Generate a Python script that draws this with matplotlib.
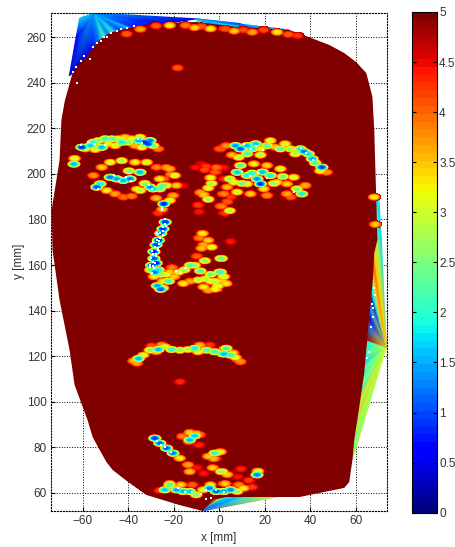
import numpy as np
import matplotlib
matplotlib.use("Agg")
import matplotlib.pyplot as plt
from matplotlib.tri import Triangulation

plt.rcParams["font.family"] = ["Liberation Sans", "DejaVu Sans"]

# face outline [mm]
face_x = [-64.6, -61.5, -58.5, -55.8, -52.7, -49.7, -47.0, -38.2, -29.5, -10.1, 8.8, 30.8, 39.6, 48.4, 54.9, 60.2,
          64.6, 67.3, 68.1, 68.6, 69.0, 69.5, 68.1, 67.6, 66.4, 65.0, 63.7, 61.5, 59.3, 58.5, 57.1, 54.9, 35.2, 25.1,
          3.1, -3.1, -7.5, -17.6, -32.1, -39.6, -43.0, -47.0, -49.7, -52.7, -55.8, -58.0, -63.7, -65.9, -70.3, -73.4,
          -73.8, -70.3, -69.5, -68.0]
face_y = [244.2, 248.6, 251.2, 255.0, 258.7, 260.9, 262.2, 264.4, 266.1, 266.6, 264.4, 263.1, 259.9, 256.5, 253.0,
          249.0, 244.2, 233.7, 219.2, 201.7, 188.5, 171.0, 165.3, 155.0, 141.6, 127.1, 112.6, 97.7, 83.2, 74.5, 64.8,
          62.2, 58.2, 58.2, 58.2, 56.9, 52.1, 54.7, 59.1, 64.4, 67.0, 70.1, 73.6, 78.9, 84.6, 92.0, 107.4, 122.7,
          144.6, 166.6, 184.1, 206.0, 223.6, 232.0]

# interpolated fans outside the face: apex first, then rim
fan_low_x = [73.4, 65.0, 64.9, 64.7, 64.4, 64.0, 63.7, 63.2, 62.7, 62.1, 61.5, 60.9, 60.3, 59.8, 59.3, 58.5]
fan_low_y = [124.0, 127.0, 124.5, 121.0, 118.0, 115.0, 112.0, 108.5, 105.0, 101.5, 98.0, 94.0, 90.0, 86.5, 83.0, 74.5]
fan_low_v = [3.0, 2.0, 1.8, 2.2, 1.7, 2.3, 2.0, 2.6, 1.9, 3.4, 2.5, 3.5, 2.4, 3.3, 2.4, 2.8]

fan_up_x = [73.4, 65.0, 65.6, 66.0, 66.4, 66.8, 67.0, 67.3, 67.6, 67.9, 68.1, 69.5, 71.2]
fan_up_y = [124.0, 127.0, 133.0, 137.0, 141.0, 145.0, 148.0, 151.0, 155.0, 160.0, 165.0, 171.0, 171.0]
fan_up_v = [3.5, 4.8, 1.2, 0.5, 1.5, 0.6, 1.7, 2.2, 3.5, 4.0, 3.5, 2.7, 1.7]

fan_edge_x = [69.0, 69.5, 71.2, 70.2]
fan_edge_y = [188.5, 171.0, 171.0, 188.5]
fan_edge_v = [1.9, 2.2, 1.7, 1.7]

fan_tl_x = [-55.0, -61.5, -63.0, -66.0, -64.6, -60.2, -58.5, -56.0, -53.0, -51.0, -49.0, -47.0, -44.0, -40.0, -38.2,
            -29.5, -20.0, -10.0]
fan_tl_y = [270.6, 268.3, 260.0, 243.0, 244.2, 249.0, 251.2, 254.0, 258.0, 260.0, 261.0, 262.2, 263.0, 264.0, 264.4,
            266.1, 266.5, 268.0]
fan_tl_v = [1.5, 1.7, 0.5, 0.4, 0.4, 0.3, 0.6, 0.5, 1.2, 2.2, 1.2, 2.0, 0.9, 1.6, 0.8, 0.6, 0.4, 0.5]

fan_top_x = [-10.0, -10.1, -2.0, 8.8, 18.0, 30.8, 12.0, 8.8]
fan_top_y = [268.0, 266.6, 265.5, 264.4, 263.8, 263.1, 264.8, 266.0]
fan_top_v = [1.6, 2.6, 1.3, 1.8, 1.2, 1.6, 1.2, 1.0]

fan_bot_x = [-7.5, -3.1, 0.0, 3.1, 8.0, 12.0, 16.0, 20.0, 25.1]
fan_bot_y = [52.1, 56.9, 57.6, 58.2, 58.2, 58.2, 58.2, 58.2, 58.2]
fan_bot_v = [0.9, 4.8, 3.0, 1.8, 1.6, 2.0, 2.3, 2.7, 3.0]

# error speckles on the face [mm] and [colour value]
brow_l_x = [-60.8, -59.3, -57.1, -55.7, -54.9, -53.5, -52.0, -50.5, -49.1, -47.6, -46.1, -44.7, -43.2, -41.7, -40.3,
            -38.8, -37.3, -35.9, -34.4, -33.0, -31.5, -30.7, -29.3, -27.1, -35.1, -64.0, -64.3]
brow_l_y = [211.9, 211.2, 212.6, 214.1, 210.9, 214.8, 211.9, 215.6, 213.4, 215.6, 212.6, 215.6, 214.1, 216.3, 214.1,
            215.6, 212.6, 214.8, 211.9, 214.1, 213.4, 214.8, 212.6, 211.2, 216.3, 207.0, 204.5]
brow_l_v = [0.8, 3.0, 1.6, 2.0, 3.0, 2.5, 1.5, 2.0, 3.2, 2.2, 3.0, 2.8, 1.8, 3.3, 2.5, 3.0, 3.5, 1.5, 3.0, 0.8, 0.8,
            1.2, 2.5, 3.8, 2.8, 3.0, 1.5]

eye_l_x = [-55.7, -52.0, -48.3, -43.2, -37.3, -32.2, -27.8, -54.2, -52.7, -48.3, -45.4, -42.5, -39.5, -35.1, -30.7,
           -29.3, -49.8, -46.1, -42.5, -38.8, -35.1, -26.4, -23.4, -26.4, -22.0, -19.8, -19.0, -20.5, -22.0, -24.6,
           -25.3, -27.0, -33.0, -36.5, -40.0, -28.0]
eye_l_y = [199.5, 203.1, 205.3, 206.0, 205.3, 205.3, 203.1, 194.4, 195.8, 198.7, 198.0, 197.3, 198.0, 200.9, 194.4,
           193.6, 192.9, 191.4, 190.0, 190.4, 192.9, 193.6, 195.1, 198.0, 202.4, 199.5, 195.1, 190.7, 188.5, 187.0,
           184.6, 183.0, 196.0, 193.5, 201.5, 189.5]
eye_l_v = [3.7, 3.4, 3.0, 2.7, 3.2, 3.0, 3.8, 1.0, 1.8, 1.2, 1.4, 1.5, 1.2, 1.5, 1.3, 1.7, 3.2, 3.6, 3.9, 3.8, 2.8,
           2.2, 3.0, 3.2, 3.5, 3.0, 3.4, 3.6, 3.0, 0.7, 3.5, 4.2, 2.6, 3.2, 2.4, 3.5]

brow_r_x = [0.0, 2.5, 5.0, 6.6, 8.8, 8.0, 11.7, 11.7, 13.9, 15.5, 17.6, 17.6, 20.5, 22.0, 24.0, 26.4, 28.5, 30.8, 33.0,
            35.2, 36.8, 38.8, 40.5, 41.8, 44.7, 44.0, 46.9]
brow_r_y = [211.2, 212.6, 208.5, 212.6, 211.2, 207.5, 212.6, 209.0, 211.2, 213.4, 211.2, 208.5, 212.6, 214.8, 212.0,
            211.2, 213.4, 211.2, 209.0, 211.2, 210.0, 209.0, 206.8, 205.0, 203.1, 201.5, 200.9]
brow_r_v = [4.0, 3.7, 3.5, 1.3, 1.0, 2.8, 1.5, 2.2, 1.8, 1.6, 3.2, 2.8, 2.2, 3.0, 3.4, 2.2, 3.0, 2.6, 2.8, 1.8, 1.2,
            1.7, 1.4, 2.2, 0.9, 3.0, 3.7]

eye_r_x = [8.8, 14.7, 20.5, 26.4, 32.3, 37.4, 7.3, 11.7, 16.1, 17.6, 22.0, 5.9, 2.9, 11.7, 19.1, 24.9, 29.3, 33.7,
           35.9, 29.3, 20.5, 13.2, 7.3, 1.5, 4.0, 9.5, 14.0, 18.5, 23.5, 27.5, 31.0]
eye_r_y = [203.9, 204.6, 203.9, 202.4, 198.7, 195.1, 200.9, 199.5, 198.0, 195.8, 199.5, 196.5, 194.4, 195.8, 193.6,
           196.5, 195.8, 193.6, 191.4, 191.4, 190.7, 191.4, 192.2, 191.4, 198.0, 196.0, 200.5, 201.0, 196.0, 199.0,
           190.0]
eye_r_v = [2.2, 3.2, 3.4, 3.0, 3.0, 3.5, 1.6, 1.8, 1.3, 0.8, 1.8, 3.0, 3.5, 3.0, 3.3, 3.2, 3.4, 2.4, 1.8, 3.6, 3.7,
           3.4, 3.0, 3.8, 2.6, 2.4, 1.9, 1.5, 2.6, 2.4, 4.0]

nose_up_x = [-23.5, -21.5, -24.5, -25.0, -4.0, -6.5, -1.5, -6.0, -2.0, 1.5, 2.0, -10.5, -8.0, -5.0, -3.5, -8.5, -7.0,
             -5.0, 0.5, 4.0, 3.0, -9.5, 4.5, 2.0, -16.0, -9.0]
nose_up_y = [203.0, 200.0, 198.0, 195.0, 198.5, 202.0, 203.0, 203.5, 201.0, 203.0, 198.0, 203.0, 204.5, 194.0, 196.0,
             192.0, 191.0, 189.0, 186.0, 184.0, 188.0, 186.5, 190.0, 183.0, 195.0, 183.5]
nose_up_v = [3.6, 3.8, 4.0, 2.2, 3.1, 4.1, 3.9, 4.2, 4.0, 4.4, 4.2, 4.4, 4.5, 3.0, 2.8, 3.6, 3.4, 2.6, 3.8, 2.8, 4.0,
             4.2, 4.2, 4.2, 4.5, 4.4]

nose_x = [-24.0, -25.0, -26.0, -27.0, -28.0, -29.0, -29.0, -30.0, -28.0, -30.5, -28.5, -27.0, -26.0, -25.0, -23.5,
          -22.0, -21.0, -22.5, -25.0, -27.5, -29.0, -26.0, -20.0, -18.0, -15.5, -13.0, -11.0, -8.5, -6.5, -4.0, -2.0,
          0.0, 1.5, 2.5, -16.0, -13.0, -9.5, -7.0, -4.0, -1.0, 1.0, -2.0, -5.0, -7.0, -9.0, -7.5, -5.0, -3.5, 0.5,
          -8.0, -10.0, -6.5, 4.5]
nose_y = [179.0, 176.0, 174.0, 171.0, 169.0, 166.0, 163.0, 160.0, 161.0, 158.0, 157.0, 158.0, 156.0, 153.0, 156.0,
          157.0, 159.0, 153.0, 150.0, 151.0, 155.0, 149.5, 155.0, 157.0, 158.0, 160.0, 160.0, 157.5, 154.0, 156.0,
          153.0, 157.0, 155.0, 152.0, 152.0, 153.0, 153.5, 150.5, 153.0, 151.0, 153.0, 149.5, 149.0, 169.0, 172.0,
          174.0, 171.0, 168.0, 163.0, 167.5, 164.0, 162.0, 170.5]
nose_v = [0.8, 0.8, 1.0, 0.7, 0.9, 0.8, 1.0, 0.9, 0.7, 2.4, 1.2, 1.8, 2.5, 3.2, 3.0, 3.4, 3.8, 2.0, 2.6, 1.4, 3.2, 1.0,
          3.4, 3.0, 2.6, 2.2, 2.6, 2.2, 2.8, 2.4, 2.8, 2.0, 3.0, 3.2, 3.2, 3.6, 2.8, 3.2, 3.0, 3.0, 3.4, 3.1, 3.6, 3.6,
          3.8, 3.2, 3.4, 3.0, 2.4, 3.5, 4.0, 2.6, 4.4]

mouth_x = [-38.0, -35.8, -33.7, -30.7, -30.0, -27.0, -24.1, -21.2, -17.5, -13.9, -11.0, -8.7, -5.8, -4.3, -2.2, 1.5,
           4.4, 6.6, 8.8, -17.5, -36.5, -28.0, -25.5, -9.5, 5.5, 7.5, 2.5]
mouth_y = [118.0, 119.0, 120.5, 122.7, 124.5, 123.0, 124.2, 123.0, 122.7, 123.0, 123.5, 124.9, 122.7, 124.9, 122.0,
           121.0, 120.5, 119.5, 117.6, 108.8, 117.0, 122.0, 125.0, 122.0, 121.5, 118.5, 123.5]
mouth_v = [3.5, 1.5, 3.0, 2.5, 4.0, 1.5, 3.0, 2.0, 2.5, 2.8, 1.8, 3.5, 2.2, 4.2, 2.0, 1.5, 2.0, 3.0, 3.7, 4.3, 3.6,
           3.4, 3.6, 3.0, 3.3, 3.8, 2.2]

chin_x = [-28.6, -26.4, -23.4, -20.5, -17.6, -13.9, -13.2, -11.0, -16.5, -10.3, -8.8, -13.2, -13.2, -2.2, -5.0, 0.0,
          -2.5, 0.7, -3.0, 3.0, 16.1, 16.5, -24.2, -22.0, -19.0, -16.1, -13.2, -10.3, -7.3, -4.4, -1.5, 1.5, 4.4, 7.3,
          10.2, -26.5, -22.0, -17.0, -12.0, -4.0, 2.0, 8.0, 9.0, 12.5, 7.5, -10.0, -13.5, -9.0, 14.0, -7.0]
chin_y = [84.0, 81.8, 79.6, 77.4, 75.2, 72.3, 69.3, 85.0, 84.8, 86.0, 85.5, 83.2, 86.5, 77.4, 76.0, 78.0, 75.0, 69.3,
          71.0, 68.0, 67.9, 69.5, 61.3, 63.5, 61.3, 60.6, 60.6, 59.1, 61.3, 62.0, 60.6, 60.6, 61.3, 60.6, 62.0, 61.0,
          64.0, 63.5, 63.5, 63.5, 64.0, 63.5, 70.5, 65.5, 67.0, 71.0, 82.5, 81.0, 62.5, 68.5]
chin_v = [0.9, 1.1, 1.0, 1.2, 3.2, 3.6, 3.4, 1.6, 3.8, 3.4, 3.8, 1.5, 3.4, 2.0, 3.4, 3.2, 3.5, 2.6, 3.4, 3.4, 1.2, 3.0,
          1.6, 2.2, 1.4, 1.5, 1.6, 2.5, 3.0, 1.2, 1.0, 1.4, 1.2, 2.6, 3.2, 4.2, 3.0, 3.4, 4.0, 3.2, 3.4, 3.8, 4.3, 4.2,
          4.4, 4.4, 3.8, 4.3, 4.2, 4.4]

edge_x = [-41.0, -18.5, -35.0, -28.0, -22.0, -15.0, -11.0, -8.0, -4.0, 2.0, 6.0, 10.0, 14.0, 19.0, 25.0, 30.0, 34.0,
          67.8, 68.3]
edge_y = [261.7, 246.8, 263.8, 265.3, 265.5, 265.5, 264.5, 265.0, 264.0, 264.0, 263.0, 263.5, 262.5, 263.5, 262.5,
          261.5, 261.0, 190.0, 178.0]
edge_v = [4.0, 4.0, 3.6, 4.0, 3.2, 3.8, 3.4, 4.0, 3.2, 4.0, 3.4, 4.1, 3.6, 4.1, 3.2, 4.0, 4.2, 3.2, 3.4]

# holes with no data, left white
hole_x = [-60.8, -58.0, -54.9, -50.5, -36.0, -34.0, -46.5, -44.0, -41.0, -39.0, -31.0, -29.5, -53.5, -25.3, -25.1,
          -24.0, -25.0, -26.0, -26.5, -27.0, -28.0, -28.5, -29.0, -29.5, -30.0, -30.5, -27.5, -29.0, -19.0, -17.0,
          -15.0, 11.0, 14.0, 16.0, 19.0, 36.0, 38.0, 41.0, 10.0, 13.5, 17.0, 21.0, 33.0, -27.5, -25.5, -24.0, -21.5,
          -18.0, -15.0, -12.0, -8.0, -6.0, -1.5, 2.0, -6.0, -3.5, 68.0, 68.5, 67.0, 67.5, 67.5, -62.5, -57.0, -52.0,
          -49.5, -45.0, -40.5, -37.5, 66.5, -24.0, -24.6, -23.6, -25.4, -26.2, -25.0, -26.8, -27.6, -26.4, -28.4,
          -27.2, -29.2, -28.0, -29.8, -30.4, -29.4, -30.6, -28.8, -64.6, -63.2, -61.0, -59.4, -55.5, -54.0, -50.8,
          -47.5, -43.5, 65.6, 64.8]
hole_y = [212.5, 214.0, 213.0, 212.5, 215.5, 213.5, 199.5, 197.0, 198.5, 197.0, 195.0, 193.5, 193.5, 185.0, 184.0,
          178.0, 175.0, 172.0, 169.0, 166.5, 164.0, 161.0, 159.5, 156.5, 163.0, 159.0, 174.0, 170.0, 157.5, 157.0,
          158.5, 213.0, 211.0, 212.0, 210.5, 211.5, 209.0, 206.0, 201.0, 199.0, 200.5, 198.0, 192.0, 83.0, 81.0, 80.0,
          78.0, 62.0, 60.5, 60.5, 59.5, 61.5, 61.5, 60.5, 57.5, 57.8, 150.0, 147.0, 143.0, 141.0, 137.0, 240.0, 250.5,
          258.5, 260.0, 262.8, 264.0, 265.0, 133.0, 180.0, 176.5, 177.0, 177.0, 174.0, 173.0, 173.5, 171.0, 170.5,
          168.0, 167.5, 165.0, 165.0, 166.0, 162.0, 161.5, 160.0, 158.5, 244.8, 247.0, 249.5, 251.8, 255.5, 257.5,
          260.0, 262.0, 263.5, 122.0, 119.0]

x_ticks = [-60, -40, -20, 0, 20, 40, 60]
y_ticks = [60, 80, 100, 120, 140, 160, 180, 200, 220, 240, 260]
cbar_ticks = [0, 0.5, 1, 1.5, 2, 2.5, 3, 3.5, 4, 4.5, 5]
cbar_labels = ["0", "0.5", "1", "1.5", "2", "2.5", "3", "3.5", "4", "4.5", "5"]

W, H = 456, 547
TEXT = "#333333"
XLIM = (-74.2, 73.7)
YLIM = (52.2, 270.7)
jet = plt.get_cmap("jet", 64)

fig = plt.figure(figsize=(W / 100, H / 100), dpi=100)
ax = fig.add_axes([50.7 / W, 1 - 510.7 / H, (387 - 50.7) / W, (510.7 - 12.7) / H])


# fan of triangles around one apex, shaded between vertices
def draw_fan(xs, ys, vs):
    tris = [[0, i, i + 1] for i in range(1, len(xs) - 1)]
    ax.tripcolor(Triangulation(xs, ys, tris), vs, shading="gouraud", cmap=jet, vmin=0, vmax=5, zorder=2)


# raster the speckles: each one falls off to 5 over a small flat ellipse
def speckle_image(xs, ys, vs, rx=3.2, ry=1.8):
    gx = np.linspace(XLIM[0], XLIM[1], 336)
    gy = np.linspace(YLIM[0], YLIM[1], 498)
    grid = np.full((gy.size, gx.size), 5.0)
    for x0, y0, v0 in zip(xs, ys, vs):
        ix = np.where(np.abs(gx - x0) < rx)[0]
        iy = np.where(np.abs(gy - y0) < ry)[0]
        if ix.size == 0 or iy.size == 0:
            continue
        dx, dy = np.meshgrid((gx[ix] - x0) / rx, (gy[iy] - y0) / ry)
        d = np.minimum(dx ** 2 + dy ** 2, 1.0)
        patch = v0 + (5 - v0) * d ** 1.4
        grid[np.ix_(iy, ix)] = np.minimum(grid[np.ix_(iy, ix)], patch)
    return np.ma.masked_greater(grid, 4.97)


for fan in [(fan_low_x, fan_low_y, fan_low_v), (fan_up_x, fan_up_y, fan_up_v), (fan_edge_x, fan_edge_y, fan_edge_v),
            (fan_tl_x, fan_tl_y, fan_tl_v), (fan_top_x, fan_top_y, fan_top_v), (fan_bot_x, fan_bot_y, fan_bot_v)]:
    draw_fan(*fan)

# the face itself is saturated at the top of the scale
ax.fill(face_x, face_y, color=jet(1.0), lw=0, zorder=3)

spots_x = brow_l_x + eye_l_x + brow_r_x + eye_r_x + nose_up_x + nose_x + mouth_x + chin_x + edge_x
spots_y = brow_l_y + eye_l_y + brow_r_y + eye_r_y + nose_up_y + nose_y + mouth_y + chin_y + edge_y
spots_v = brow_l_v + eye_l_v + brow_r_v + eye_r_v + nose_up_v + nose_v + mouth_v + chin_v + edge_v
ax.imshow(speckle_image(spots_x, spots_y, spots_v), extent=[*XLIM, *YLIM], origin="lower", aspect="auto",
          interpolation="nearest", cmap=jet, vmin=0, vmax=5, zorder=5)
ax.scatter(hole_x, hole_y, c="white", s=2.2, marker="s", lw=0, zorder=7)

ax.set_xlim(*XLIM)
ax.set_ylim(*YLIM)
ax.set_xticks(x_ticks)
ax.set_yticks(y_ticks)
ax.tick_params(direction="in", length=3, width=0.8, top=False, right=False, labelsize=8.5, labelcolor=TEXT, pad=3)
ax.grid(True, color="black", linestyle=":", linewidth=0.7)
ax.set_axisbelow(True)
for side in ax.spines.values():
    side.set_linestyle(":")
    side.set_linewidth(0.8)
ax.set_xlabel("x [mm]", fontsize=8.5, color=TEXT, labelpad=3.5)
ax.set_ylabel("y [mm]", fontsize=8.5, color=TEXT, labelpad=1)

# colour bar with 64 steps
cax = fig.add_axes([412 / W, 1 - 512.7 / H, 25 / W, (512.7 - 12) / H])
fig.colorbar(plt.cm.ScalarMappable(plt.Normalize(0, 5), jet), cax=cax, ticks=cbar_ticks)
cax.set_yticklabels(cbar_labels)
cax.tick_params(direction="in", length=3, width=0.8, left=True, right=True, labelsize=8.5, labelcolor=TEXT, pad=1.5)

fig.savefig("out.png", dpi=100)
